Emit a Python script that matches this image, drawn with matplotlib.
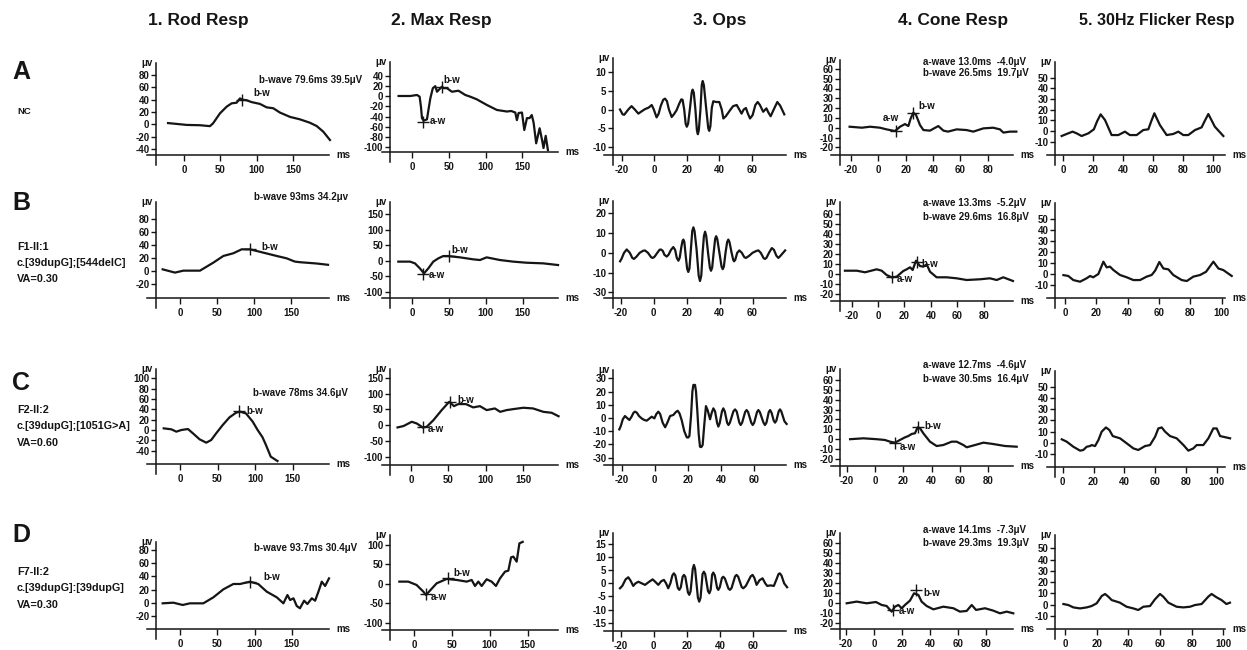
import matplotlib
matplotlib.use('Agg')
import matplotlib.pyplot as plt

plt.rcParams['font.family'] = ['Liberation Sans', 'DejaVu Sans']
plt.rcParams['font.weight'] = 'bold'
plt.rcParams['axes.unicode_minus'] = False

W, H = 1247, 650
fig = plt.figure(figsize=(W / 100, H / 100), dpi=100)
INK = '#151515'

# ---------------- text data ----------------
col_titles = ["1. Rod Resp", "2. Max Resp", "3. Ops", "4. Cone Resp", "5. 30Hz Flicker Resp"]
row_letters = ["A", "B", "C", "D"]
row_info = [["NC"],
            ["F1-II:1", "c.[39dupG];[544delC]", "VA=0.30"],
            ["F2-II:2", "c.[39dupG];[1051G>A]", "VA=0.60"],
            ["F7-II:2", "c.[39dupG]:[39dupG]", "VA=0.30"]]
rod_notes = ["b-wave 79.6ms 39.5\u03bcV", "b-wave 93ms 34.2\u03bcv",
             "b-wave 78ms 34.6\u03bcV", "b-wave 93.7ms 30.4\u03bcV"]
cone_notes_a = ["a-wave 13.0ms  -4.0\u03bcV", "a-wave 13.3ms  -5.2\u03bcV",
                "a-wave 12.7ms  -4.6\u03bcV", "a-wave 14.1ms  -7.3\u03bcV"]
cone_notes_b = ["b-wave 26.5ms  19.7\u03bcV", "b-wave 29.6ms  16.8\u03bcV",
                "b-wave 30.5ms  16.4\u03bcV", "b-wave 29.3ms  19.3\u03bcV"]

# ---------------- ticks ----------------
x_ticks = [[0, 50, 100, 150], [0, 50, 100, 150], [-20, 0, 20, 40, 60],
           [-20, 0, 20, 40, 60, 80], [0, 20, 40, 60, 80, 100]]
y_ticks = [
    [[-40, -20, 0, 20, 40, 60, 80], [-100, -80, -60, -40, -20, 0, 20, 40], [-10, -5, 0, 5, 10],
     [-20, -10, 0, 10, 20, 30, 40, 50, 60], [-10, 0, 10, 20, 30, 40, 50]],
    [[-20, 0, 20, 40, 60, 80], [-100, -50, 0, 50, 100, 150], [-20, -10, 0, 10, 20],
     [-20, -10, 0, 10, 20, 30, 40, 50, 60], [-10, 0, 10, 20, 30, 40, 50]],
    [[-40, -20, 0, 20, 40, 60, 80, 100], [-100, -50, 0, 50, 100, 150], [-30, -20, -10, 0, 10, 20, 30],
     [-20, -10, 0, 10, 20, 30, 40, 50, 60], [-10, 0, 10, 20, 30, 40, 50]],
    [[-20, 0, 20, 40, 60, 80], [-100, -50, 0, 50, 100], [-15, -10, -5, 0, 5, 10, 15],
     [-20, -10, 0, 10, 20, 30, 40, 50, 60], [-10, 0, 10, 20, 30, 40, 50]],
]
b_ops_ylabels = ["-30", "-10", "0", "10", "20"]

# ---------------- traces (ms, microvolt) ----------------
A_rod_t = [-22, 3.6, 22, 35.7, 40, 49.5, 58.7, 65.6, 72.4, 77, 80, 86, 93, 104.5, 113.6, 122.8, 132, 145.8, 159.6, 173, 182.5, 191.6, 200.8]
A_rod_v = [2, -1, -1.5, -3, 1.6, 17.8, 28.6, 34, 35, 42, 40, 39, 36, 33, 27.5, 26, 19, 12, 8, 2.6, -2.8, -12, -25.5]
A_max_t = [-18.7, -2.7, 6.4, 10, 11.8, 13.2, 15.4, 20, 22, 24.6, 28, 31.4, 33.7, 37, 40.5, 42.7, 47.3, 54, 63, 72.3, 79, 88, 101.6, 115.5, 129, 135, 140.5, 142.7, 145, 149.6, 152.8, 156.4, 160, 163, 165.5, 169, 173.7, 177, 179, 182, 185]
A_max_v = [0.6, 0.6, 2.6, -0.7, -20.5, -43, -48, -45.5, -27, -4, 16, 20, 9, 14, 19, 16, 16, 9, 11, 2.6, -0.7, -6, -17, -27, -30, -29, -32, -47, -33, -32, -66.5, -43, -43, -37, -52, -92.7, -63, -86, -102, -78, -106]
A_ops_t = [-21.1, -19.5, -18.5, -16, -14, -12, -9.8, -7.5, -5.7, -3.5, -1.6, -0.3, 1.4, 2.6, 4, 5.5, 6.6, 7.8, 9, 10.7, 12.2, 13.7, 15.3, 16.6, 17.4, 18.4, 19.3, 20, 20.8, 22, 23, 23.6, 24.3, 25.3, 26.2, 26.8, 27.4, 28.4, 29.2, 29.8, 30.5, 32, 33.2, 33.8, 34.5, 35.4, 36.3, 38, 40, 41.5, 42.5, 44, 46.6, 48.5, 50.7, 52.3, 53.7, 55, 56.4, 57.5, 58.9, 60.5, 62.2, 63.6, 65, 67, 69, 70.2, 71.6, 73.5, 75.7, 77.5, 80]
A_ops_v = [0, -1.3, -1.4, 0, 0.9, 0, -1.1, -0.4, 0.1, 0.5, 1.2, 0, -2.1, -1.2, 1, 2.6, 2.9, 2.2, 0, -2.0, -1.2, -0.2, 1.5, 2.7, 2.6, 0, -3.8, -4.6, -3.8, 0.5, 4.5, 5.3, 4.5, 0, -5.5, -6.6, -5.5, 0, 6.5, 7.6, 6.5, 0, -5, -5.7, -4.5, 0.5, 2.2, 2, 2, 0, -2.4, -1.8, -0.2, 0.9, 1.2, 0, -1.1, 0, 0.4, -1, -2.4, -1.5, 1.2, 2.0, 1.2, -0.6, 0.3, -0.8, -1.8, 0, 2.0, 1, -1.3]
A_cone_t = [-21, -12, -6, 1.2, 6, 12.2, 15.9, 19.5, 22, 23.7, 25.6, 27.6, 30.5, 33, 37.8, 43.9, 47.6, 51, 57.3, 64.6, 69.5, 76.8, 84, 89, 91.5, 96.3, 101]
A_cone_v = [1, 0, 1, 0, -1.7, -3.4, 1, 3.7, 1.7, 9.5, 15.3, 13, 2.7, -2.4, -3, 1.7, -3, -4, -1.7, -2.4, -4, -0.7, 0, -1.7, -5, -4, -4]
A_flk_t = [-1.1, 2.2, 6.2, 8.9, 12.2, 16.7, 20.4, 22.5, 24.9, 27.8, 32.2, 36.7, 41.1, 44.4, 48.9, 53.3, 56.7, 58.6, 60.7, 64.4, 68.9, 73.3, 76.7, 80, 83.3, 87.8, 92.2, 94.5, 96.7, 101, 106.7]
A_flk_v = [-4.7, -2.8, -0.6, -2.2, -4.7, -2.2, 1.6, 9, 15.6, 10.3, -3.8, -3.8, -0.6, -3.8, -3.8, 0.9, 1.6, 9, 16.6, 5.6, -3.8, -2.8, -0.6, -3.8, -3.8, 0.9, 3.4, 10, 15.9, 4.1, -4.7]

B_rod_t = [-23.4, -6.8, 4.5, 27, 45, 58.6, 72, 83.3, 94.6, 112.6, 130.6, 144, 155, 162, 184.7, 200]
B_rod_v = [3, -2, 1, 1, 13.3, 23.6, 27.7, 33.8, 33.8, 28.7, 23.6, 20, 15, 14, 12, 10]
B_max_t = [-19, -3, 3.6, 10.4, 15.9, 21.7, 28.5, 35.3, 42, 49, 64.8, 83, 92, 101, 119, 137, 155, 178, 198]
B_max_v = [-3, -3, -8.6, -25, -41, -25, -3, 7.5, 15, 15, 10.8, 4.3, 2.2, 10.8, 2.2, -3, -6.5, -8.6, -14]
B_ops_t = [-20.4, -19.5, -18, -16.4, -14.5, -13, -12, -10.5, -8.5, -6.5, -5.3, -3.5, -1.5, -0.6, 0.5, 2.2, 3.5, 4.3, 5.5, 6.5, 7.9, 9, 10.5, 11.9, 13, 14, 15, 15.8, 16.8, 17.5, 18, 18.6, 19.5, 20.3, 21, 21.7, 22.6, 23.4, 24.1, 24.8, 26, 27.3, 28.1, 28.9, 29.7, 30.5, 31.2, 31.9, 33, 34.1, 34.8, 35.5, 36.4, 37.3, 37.9, 38.6, 39.9, 41.2, 41.9, 42.6, 43.6, 44.6, 45.3, 46, 47.3, 48.3, 48.8, 49.5, 50.7, 52, 53.5, 55, 56, 58, 60, 62.5, 63.6, 65, 66.8, 67.6, 68.5, 70, 71.7, 73, 74.5, 75.7, 77, 79.8]
B_ops_v = [-4.3, -3, 0, 1.7, 0, -2.6, -3.1, -2, 0, 1, 1.2, 0, -2.3, -2.6, -2, 0, 1.5, 1.7, 1, -1, -1.9, -1, 1.5, 2.9, 1.5, -2.5, -4, -2.5, 3, 6, 6.7, 5.5, -2, -8, -9.7, -8, 2, 11, 12.9, 11, 2, -11.5, -14.3, -11.5, 0, 8.5, 10.7, 8.5, 0, -7.5, -9.1, -7.5, 0, 7, 8.4, 7, 0, -7, -8.3, -7, 0, 5.5, 6.7, 5.5, 0, -3.6, -4.3, -3.6, 0, 1.2, 0, -2.2, -2.6, -1.5, 0, 1, 1.2, 0, -2.8, -3.1, -2.5, 0, 2.4, 1.5, -1.5, -2.6, -1.5, 1.2]
B_cone_t = [-25, -16, -9.8, -1, 2.8, 6.5, 10.3, 14.1, 19.1, 21.7, 24.2, 26.2, 28.7, 31.7, 34.3, 36.8, 39.3, 44.3, 51.9, 59.4, 67, 77, 84.6, 89.7, 94.7, 102]
B_cone_v = [3.3, 3.3, 1.7, 4.7, 3.3, -1, -3.3, -2.7, 3, 4.7, 6.7, 4, 13.3, 8, 7.3, 9.7, 2.3, -3.3, -3.3, -4.3, -6, -5.3, -4.3, -6, -3.3, -7]
B_flk_t = [-1, 2.1, 5.3, 9.6, 13.8, 16, 18, 21.3, 24.5, 26.6, 28.7, 30.9, 35.1, 39.4, 43.6, 47.9, 52.1, 55.3, 57.5, 60.2, 62.8, 66, 69.1, 74.5, 77.7, 81.9, 86.2, 90, 94.7, 97.9, 101, 106.4]
B_flk_v = [-1, -1.8, -5.5, -7, -3.9, -1.8, -3, 0, 11.2, 6, 6.7, 3.6, -0.9, -3, -5.5, -5.5, -2.4, -0.9, 3, 10.9, 5, 4.2, -0.9, -5.5, -6.4, -2.4, -0.9, 2, 11.2, 5, 3.6, -1.8]

C_rod_t = [-21.7, -11.5, -4.9, 1.8, 10.6, 17.3, 26.1, 35, 41.6, 48.2, 57, 66, 74.8, 80, 88, 97, 103.5, 110, 114.6, 121, 130]
C_rod_v = [3.2, 1.3, -3.2, 0, 1.9, -6.5, -18, -24.5, -19.4, -6.5, 9.7, 24.5, 33.5, 35.5, 32, 16, 0, -14, -29, -51.6, -60]
C_max_t = [-18, -10, 1, 7.6, 15.6, 21, 30, 41, 51, 57.4, 63, 73.4, 83, 92, 101, 112, 119, 127.7, 136.6, 150, 163, 176.7, 187.8, 197]
C_max_v = [-7.4, -3, 10.5, 5.3, -7.4, -5.3, 15.8, 47.5, 73.8, 60, 66.5, 66.5, 56, 60, 47.5, 52.7, 42, 47.5, 50.6, 54.9, 52.7, 42, 39, 28]
C_ops_t = [-21.4, -20.5, -19.3, -18, -16.7, -15.3, -14, -12.8, -11.9, -10.8, -9.5, -7.9, -6.3, -4.8, -3.3, -1.8, -0.2, 1, 2.2, 3.3, 4.8, 6.3, 7.5, 9.3, 11.3, 12.8, 13.9, 15, 16.3, 17.9, 19.4, 20.2, 21, 22, 22.8, 23.4, 24.4, 25, 25.8, 26.6, 27.4, 28.2, 29, 30, 31, 32, 33.5, 34.5, 35.5, 36.5, 37.8, 38.5, 39.3, 40.7, 41.5, 42.4, 43.8, 44.6, 45.5, 47.6, 48.6, 49.6, 51.2, 52, 52.9, 54.7, 55.6, 56.5, 58.4, 59.3, 60.2, 61.9, 62.7, 63.6, 65.8, 66.7, 67.6, 69, 69.8, 70.7, 72, 72.8, 73.6, 75, 75.8, 76.6, 78.5, 79.8]
C_ops_v = [-8.6, -6, -1, 1.5, 0, -1.5, 1, 4, 4.8, 4, 1.5, -0.3, -1.5, -2, -0.5, 1, -0.3, 3, 4.8, 3, -3.5, -7, -4, 1.5, 2.3, 4.5, 5.5, 3.5, -1.5, -10, -14.6, -14.8, -13.6, 2, 20, 25, 25, 20, 5, -12, -21.7, -22, -20.4, -5, 9, 6, -1, 4, 7.3, 5, -4, -6.5, -4, 5, 7.3, 5, -3.5, -5.3, -3.5, 5, 6.5, 5, -3.5, -5.3, -3.5, 4.5, 6, 4.5, -3.5, -5.3, -3.5, 4.5, 6, 4.5, -3.5, -5.3, -3.5, 4.5, 6, 4, -2, -3.5, -2, 5, 6.5, 5, -2.5, -4.5]
C_cone_t = [-17.6, -8.2, 1.2, 7, 10.6, 14.1, 17.6, 21.2, 23.5, 25.9, 28.2, 30.1, 31.8, 34.1, 38.8, 43.5, 48.2, 54.1, 57.6, 62.4, 64.7, 70.6, 76.5, 83.5, 91.8, 100]
C_cone_v = [0, 0.9, 0, -0.8, -2.5, -3.5, -0.8, 1.9, 3.2, 5.3, 6, 12, 11, 6, -2.5, -6.9, -5.9, -2.5, -2.5, -5.9, -8.2, -5.9, -3.5, -4.9, -6.9, -7.6]
C_flk_t = [-0.6, 2.6, 6.9, 11.3, 13.4, 15.6, 17.7, 18.8, 21, 23.2, 25.3, 28.1, 30.3, 32.5, 37.2, 41.6, 45.9, 49.1, 53.5, 56.7, 60, 62.1, 64.3, 66.5, 69.7, 74, 78.4, 81.6, 84.8, 87, 91.3, 94.6, 97.8, 100, 102.2, 108.7]
C_flk_v = [3.1, 1, -3.5, -7, -6.4, -3.5, -2.9, -2, -2.9, 2.5, 9.9, 13.7, 11.4, 6, 4, -0.5, -5, -6.4, -2.9, -2, 5.4, 12.8, 13.7, 9.9, 6, 4, -2, -7, -5, -2, -2, 4, 12.8, 12.8, 6, 4]

D_rod_t = [-23.3, -9, 3.6, 13.4, 31.3, 44.8, 58.2, 71.6, 80.6, 94, 105, 116.4, 129.9, 138.8, 144.2, 147.8, 152.3, 156.7, 161, 166.6, 171, 176.9, 181.4, 185.8, 190.3, 194.8, 200]
D_rod_v = [-0.8, 0.2, -3.3, -0.8, -0.8, 8.3, 20.4, 28.5, 28.5, 32, 28.5, 16.9, 8.3, -0.8, 11.8, 4.2, 6.8, -4.8, -8.3, 3.2, -1.8, 6.8, 3.2, 16.9, 32, 25.5, 37]
D_max_t = [-19.8, -8, 3, 11.9, 15.4, 20.7, 29.6, 42.8, 56, 69.3, 75.9, 80.3, 84.7, 89.1, 95.7, 102.3, 108, 113.4, 120, 124.4, 128, 131, 135.4, 139, 143.4]
D_max_v = [5.6, 5.6, -3, -20, -28.8, -17.6, 1.3, 12.4, 9.9, 5.6, 9.9, -5.6, 5.6, -5.6, 11.6, 5.6, -5.6, 14, 31.3, 33.9, 68, 70, 57, 104, 108]
D_ops_t = [-20.4, -19, -17, -15.4, -14, -12.4, -11, -9.3, -7.3, -5.3, -3, -0.7, 1, 2.7, 4.5, 6.1, 7.4, 8.7, 10, 11.2, 12.1, 13, 14.5, 15.4, 16.3, 17.4, 18.2, 19, 20.6, 21.4, 22.2, 23.5, 24.2, 24.9, 26.6, 27.4, 28.2, 29.4, 30.2, 31, 32.7, 33.5, 34.3, 35.2, 35.9, 36.8, 38.2, 38.9, 39.8, 41.1, 41.9, 42.9, 45, 45.9, 46.9, 49, 49.9, 50.9, 53, 54, 55.5, 58.5, 59.6, 60.7, 62, 63.8, 65.6, 67.2, 68.4, 70.4, 72.4, 74, 75.2, 76, 77, 78.6, 80.4]
D_ops_v = [-1.9, -1, 1.5, 2.3, 1, -1, 0, 0.6, 0, -0.6, 0.5, 1.5, 0.5, -0.6, 0.8, 1.3, 0, -1.9, 0, 3, 3.8, 3, -1.8, -2.5, -1.5, 2.5, 3.2, 2.5, -3.5, -4.4, -3, 5.5, 7, 5.5, -5.5, -7, -5.5, 3.5, 4.4, 3.5, -3, -3.8, -2.5, 3.3, 4.1, 3, -1.8, -2.5, -1.5, 2, 2.5, 1.8, -2, -2.5, -1.8, 2.6, 3.2, 2.5, -1.4, -1.9, -1, 2.7, 3.2, 2, -0.6, 1.2, 1.9, 0, -1, -0.8, -1, 1.5, 3.5, 3.8, 3, 0, -1.5]
D_cone_t = [-19.5, -12.4, -5.2, 1.4, 5.5, 9, 12.6, 15, 17.4, 19.8, 22.1, 25.7, 28.6, 31.7, 34, 37.6, 42.4, 49.5, 56.7, 61.4, 66.2, 69.8, 72.9, 79.3, 85.2, 90, 94.8, 99.5]
D_cone_v = [-0.5, 1.2, -0.5, 0.8, -2.2, -3.2, -8.9, -3.9, -2.2, -5.5, -2.2, 2.2, 9.6, 7.9, 1.2, -3.2, -6.6, -3.9, -5.5, -8.9, -8.2, -2.2, -7.2, -5.5, -7.9, -10.6, -8.9, -10.6]
D_flk_t = [-1, 2.1, 5.3, 9.5, 13.7, 16.8, 20, 23.2, 25.3, 27.4, 29.5, 34.7, 38.9, 43.2, 46.3, 49.5, 53.7, 56.8, 60, 62.1, 65.3, 70.5, 74.7, 79, 82.1, 86.3, 90.5, 92.6, 95.8, 98.9, 102, 104.2]
D_flk_v = [0.6, -0.3, -2.4, -3.3, -2.4, -1.2, 1.2, 7.7, 9.5, 7.1, 4.1, 1.8, -1.8, -3.3, -4.7, -1.8, -1.2, 4.7, 9.5, 7.1, 1.8, -1.8, -2.4, -1.8, -0.3, 0.6, 7.1, 9.5, 6.5, 4.1, 0.6, 1.8]

traces = [
    [(A_rod_t, A_rod_v), (A_max_t, A_max_v), (A_ops_t, A_ops_v), (A_cone_t, A_cone_v), (A_flk_t, A_flk_v)],
    [(B_rod_t, B_rod_v), (B_max_t, B_max_v), (B_ops_t, B_ops_v), (B_cone_t, B_cone_v), (B_flk_t, B_flk_v)],
    [(C_rod_t, C_rod_v), (C_max_t, C_max_v), (C_ops_t, C_ops_v), (C_cone_t, C_cone_v), (C_flk_t, C_flk_v)],
    [(D_rod_t, D_rod_v), (D_max_t, D_max_v), (D_ops_t, D_ops_v), (D_cone_t, D_cone_v), (D_flk_t, D_flk_v)],
]

# wave markers: (row, col, name, marker t, marker v, label t, label v)
wave_marks = [
    (0, 0, "b-w", 80, 40, 95, 51),
    (0, 1, "a-w", 14, -50, 24, -48), (0, 1, "b-w", 40, 19, 43, 32),
    (0, 3, "a-w", 13, -3.5, 3.4, 9.5), (0, 3, "b-w", 25.6, 14.6, 29.3, 22),
    (1, 0, "b-w", 94.6, 34, 110, 37),
    (1, 1, "a-w", 14, -43, 23, -46), (1, 1, "b-w", 50, 15, 53.5, 34),
    (1, 3, "a-w", 10.3, -3.3, 14, -5.3), (1, 3, "b-w", 29.2, 12.3, 33, 9.7),
    (2, 0, "b-w", 79, 37, 89, 37),
    (2, 1, "a-w", 15.6, -7.4, 23, -13.7), (2, 1, "b-w", 52, 74, 62, 81),
    (2, 3, "a-w", 14.1, -3.5, 17.6, -8.3), (2, 3, "b-w", 30.1, 12.7, 34.8, 13.4),
    (3, 0, "b-w", 94, 32, 112, 39.6),
    (3, 1, "a-w", 15.4, -27, 21.6, -35), (3, 1, "b-w", 44, 16, 51.6, 28.8),
    (3, 3, "a-w", 13.3, -7.2, 17.4, -7.9), (3, 3, "b-w", 30, 13, 35, 9.6),
]

# ---------------- layout (pixels) ----------------
col_geo = [(156, 147, 329), (390, 382, 558), (613, 604, 786), (840, 831, 1013), (1055, 1047, 1225)]
panel_geo = [
    [(184, 0.727, 124.3, 0.617, 63, 155), (412.3, 0.733, 96.3, 0.507, 62, 152),
     (654.3, 1.625, 109.5, 3.75, 58, 155), (878.3, 1.367, 127.7, 0.98, 60, 155),
     (1063.3, 1.5, 131, 1.067, 62, 155)],
    [(180, 0.74, 271.3, 0.65, 202, 298), (412.3, 0.736, 260.7, 0.3096, 202, 298),
     (653.7, 1.647, 252.8, 1.975, 201, 298), (878, 1.323, 274, 1.0, 202, 301),
     (1065, 1.567, 274, 1.1, 203, 298)],
    [(180, 0.75, 430, 0.517, 369, 464), (411, 0.749, 425.1, 0.316, 369, 465),
     (654.7, 1.653, 418, 1.323, 370, 465), (875, 1.417, 439.2, 0.987, 369, 466),
     (1062.7, 1.54, 442.8, 1.122, 371, 467)],
    [(180, 0.745, 602.8, 0.66, 542, 629), (414.3, 0.756, 583.8, 0.3885, 535, 630),
     (653.8, 1.658, 583.3, 2.623, 533, 631), (874, 1.4, 602.8, 0.992, 533, 629),
     (1065, 1.583, 604.7, 1.128, 535, 629)],
]

FS = 7.0
axes = {}
for r in range(4):
    for c in range(5):
        spx, lpx, rpx = col_geo[c]
        x0, xs, y0, ys, top, axpx = panel_geo[r][c]
        bot = axpx + 10
        ax = fig.add_axes([lpx / W, 1 - bot / H, (rpx - lpx) / W, (bot - top) / H])
        ax.set_xlim((lpx - x0) / xs, (rpx - x0) / xs)
        ax.set_ylim((y0 - bot) / ys, (y0 - top) / ys)
        ax.patch.set_alpha(0)
        for s in ('top', 'right'):
            ax.spines[s].set_visible(False)
        ax.spines['left'].set_position(('data', (spx - x0) / xs))
        ax.spines['bottom'].set_position(('data', (y0 - axpx) / ys))
        for s in ('left', 'bottom'):
            ax.spines[s].set_linewidth(1.1)
            ax.spines[s].set_color(INK)
        ax.set_xticks(x_ticks[c])
        ax.set_yticks(y_ticks[r][c])
        if r == 1 and c == 2:
            ax.set_yticklabels(b_ops_ylabels)
        ax.tick_params(axis='y', direction='out', length=3.5, width=1, pad=1.2,
                       labelsize=FS, colors=INK)
        ax.tick_params(axis='x', direction='out', length=4.5, width=1, pad=2.5,
                       labelsize=FS, colors=INK)
        t, v = traces[r][c]
        ax.plot(t, v, color=INK, lw=1.6, clip_on=False, solid_joinstyle='round')
        fig.text((spx - 3) / W, 1 - top / H, "\u03bcv", ha='right', va='center',
                 fontsize=FS, color=INK)
        fig.text((rpx + 7) / W, 1 - axpx / H, "ms", ha='left', va='center',
                 fontsize=FS, color=INK)
        axes[(r, c)] = ax

for (r, c, name, mt, mv, lt, lv) in wave_marks:
    ax = axes[(r, c)]
    ax.plot([mt], [mv], marker='+', ms=9, mew=1, color=INK, clip_on=False)
    ax.text(lt, lv, name, ha='left', va='center', fontsize=FS, color=INK)

# column titles
title_cx = [198, 441, 720, 953, 1157]
title_fs = [12.5, 12.5, 12.5, 12.5, 11.5]
for x, ttl, fs in zip(title_cx, col_titles, title_fs):
    fig.text(x / W, 1 - 20 / H, ttl, ha='center', va='center', fontsize=fs, color=INK)

# row labels
letter_y = [72, 203, 383, 535]
info_y = [[112], [247, 263, 279], [410, 426, 443], [572, 588, 605]]
for r in range(4):
    fig.text(12 / W, 1 - letter_y[r] / H, row_letters[r], ha='left', va='center',
             fontsize=18, color=INK)
    for txt, yy in zip(row_info[r], info_y[r]):
        fig.text(17 / W, 1 - yy / H, txt, ha='left', va='center',
                 fontsize=6.8 if r == 0 else 7.8, color=INK)

# header notes
rod_note_pos = [(362, 80), (348, 197), (348, 393), (357, 548)]
for (x, y), txt in zip(rod_note_pos, rod_notes):
    fig.text(x / W, 1 - y / H, txt, ha='right', va='center', fontsize=FS, color=INK)
cone_note_y = [(62, 73), (203, 217), (365, 379), (530, 543)]
for (ya, yb), ta, tb in zip(cone_note_y, cone_notes_a, cone_notes_b):
    fig.text(923 / W, 1 - ya / H, ta, ha='left', va='center', fontsize=FS, color=INK)
    fig.text(923 / W, 1 - yb / H, tb, ha='left', va='center', fontsize=FS, color=INK)

fig.savefig('out.png', dpi=100, facecolor='white')
